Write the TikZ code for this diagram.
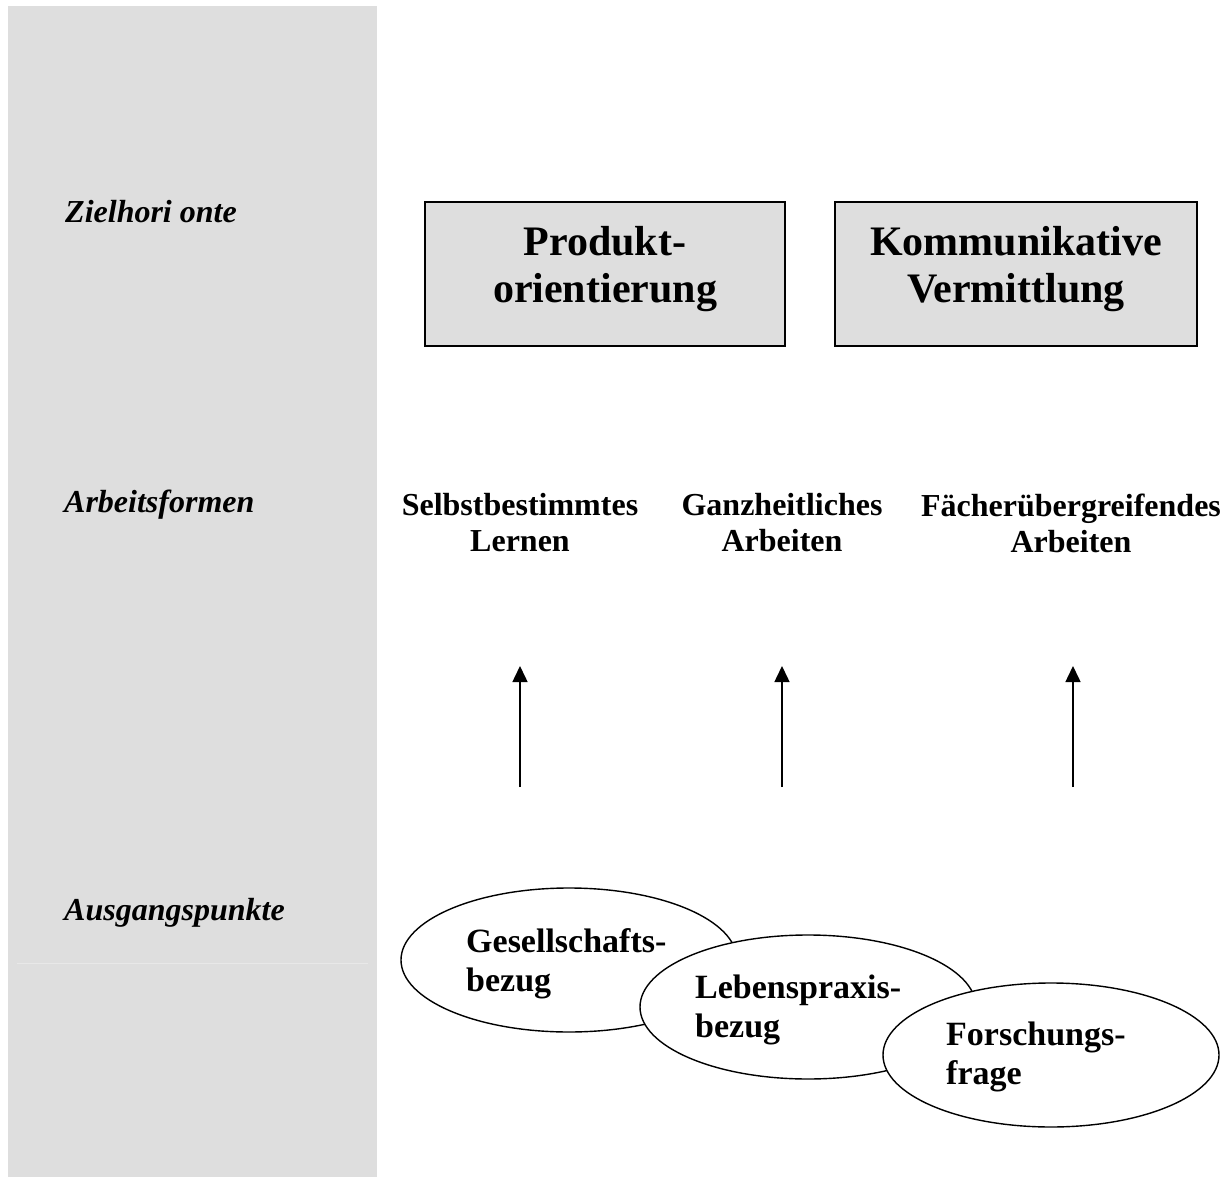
\documentclass[tikz,border=0pt]{standalone}
\usepackage{fontspec}
\setmainfont{Liberation Serif}
\usetikzlibrary{shapes.geometric,arrows.meta}
\definecolor{panelgray}{HTML}{DEDEDE}
\definecolor{seamgray}{HTML}{E8E8E8}
\begin{document}
\begin{tikzpicture}[x=1pt,y=-1pt,
  rowlabel/.style={anchor=west,inner sep=0pt,font=\fontsize{32}{36}\selectfont\bfseries\itshape},
  goalbox/.style={draw=black,line width=1.5pt,fill=panelgray,minimum width=360pt,minimum height=144pt,
    align=center,inner sep=0pt,font=\fontsize{42}{47}\selectfont\bfseries},
  goaltext/.style={align=center,inner sep=0pt,font=\fontsize{42}{47}\selectfont\bfseries},
  formlabel/.style={align=center,inner sep=0pt,font=\fontsize{32}{36}\selectfont\bfseries},
  upflow/.style={line width=1.5pt,-{Triangle[length=16pt,width=15pt]}},
  origin/.style={ellipse,draw=black,line width=1.4pt,fill=white,minimum width=336pt,minimum height=144pt,inner sep=0pt},
  origintext/.style={anchor=west,align=left,inner sep=0pt,font=\fontsize{34}{39}\selectfont\bfseries}]
  % canvas and left column
  \useasboundingbox (0,0) rectangle (1227,1177);
  \fill[white] (0,0) rectangle (1227,1177);
  \fill[panelgray] (8,6) rectangle (377,1177);
  \draw[seamgray,line width=1pt] (17,963) -- (368,963);

  % row labels
  \node[rowlabel] (zh) at (65,212) {Zielhori onte};
  \node[rowlabel] (af) at (64,505) {Arbeitsformen};
  \node[rowlabel] (ap) at (64,913) {Ausgangspunkte};

  % goals
  \node[goalbox] (prod) at (605,274) {};
  \node[goalbox,minimum width=362pt] (komm) at (1016,274) {};
  \node[goaltext] (prodtext) at (605,269) {Produkt-\\orientierung};
  \node[goaltext] (kommtext) at (1016,269) {Kommunikative\\Vermittlung};

  % working forms
  \node[formlabel] (sl) at (520,523) {Selbstbestimmtes\\Lernen};
  \node[formlabel] (ga) at (782,523) {Ganzheitliches\\Arbeiten};
  \node[formlabel] (fa) at (1071,523) {Fächerübergreifendes\\Arbeiten};

  % arrows
  \coordinate (s1) at (520,787);
  \coordinate (t1) at (520,666);
  \coordinate (s2) at (782,787);
  \coordinate (t2) at (782,666);
  \coordinate (s3) at (1073,787);
  \coordinate (t3) at (1073,666);
  \draw[upflow] (s1) -- (t1);
  \draw[upflow] (s2) -- (t2);
  \draw[upflow] (s3) -- (t3);

  % starting points
  \node[origin] (e1) at (569,960) {};
  \node[origin] (e2) at (808,1007) {};
  \node[origin] (e3) at (1051,1055) {};
  \node[origintext] (g1) at (466,964) {Gesellschafts-\\bezug};
  \node[origintext] (g2) at (695,1010) {Lebenspraxis-\\bezug};
  \node[origintext] (g3) at (946,1057) {Forschungs-\\frage};
\end{tikzpicture}
\end{document}
